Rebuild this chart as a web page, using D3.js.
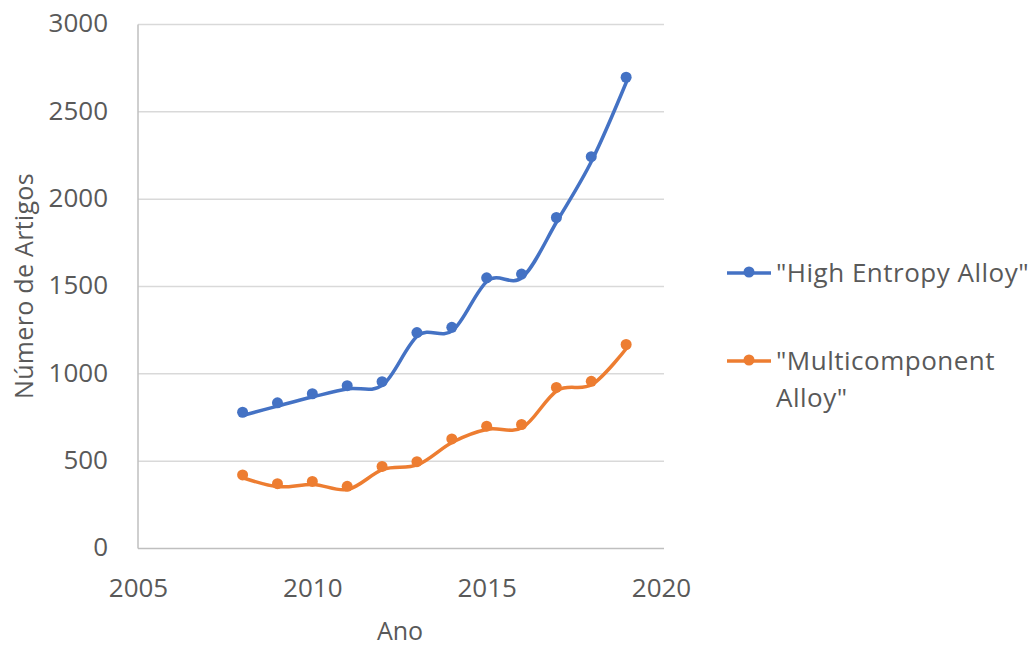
<!DOCTYPE html>
<html>
<head>
<meta charset="utf-8">
<script src="https://cdn.jsdelivr.net/npm/d3@7"></script>
<style>
  html, body { margin: 0; padding: 0; background: #fff; }
  svg text { font-family: "Open Sans", sans-serif; fill: #595959; }
</style>
</head>
<body>
<svg id="chart" width="1031" height="646"></svg>
<script>
// Publications per year for two alloy search terms
const years = [2008, 2009, 2010, 2011, 2012, 2013, 2014, 2015, 2016, 2017, 2018, 2019];
const highEntropy = [780, 834, 886, 932, 955, 1236, 1266, 1550, 1571, 1895, 2243, 2698];
const multicomponent = [421, 371, 384, 356, 470, 497, 627, 700, 710, 922, 957, 1168];
const seriesNames = ['"High Entropy Alloy"', '"Multicomponent Alloy"'];
const seriesColors = ["#4472C4", "#ED7D31"];
const xTicks = [2005, 2010, 2015, 2020];
const yTicks = [0, 500, 1000, 1500, 2000, 2500, 3000];

const svg = d3.select("#chart");

const x = d3.scaleLinear().domain([2005, 2020]).range([138, 661]);
const y = d3.scaleLinear().domain([0, 3000]).range([548.5, 24.5]);

// horizontal gridlines
svg.append("g")
  .selectAll("line")
  .data(yTicks.filter(d => d > 0))
  .join("line")
  .attr("x1", x(2005)).attr("x2", x(2020) + 3)
  .attr("y1", d => y(d)).attr("y2", d => y(d))
  .attr("stroke", "#d9d9d9").attr("stroke-width", 1.5);

// axis lines
svg.append("line")
  .attr("x1", x(2005)).attr("x2", x(2020) + 3)
  .attr("y1", y(0)).attr("y2", y(0))
  .attr("stroke", "#bfbfbf").attr("stroke-width", 1.5);
svg.append("line")
  .attr("x1", x(2005)).attr("x2", x(2005))
  .attr("y1", y(0)).attr("y2", y(3000))
  .attr("stroke", "#bfbfbf").attr("stroke-width", 1.5);

// y tick labels
const yAxis = d3.axisLeft(y).tickValues(yTicks).tickSize(0).tickPadding(30).tickFormat(d3.format("d"));
const gy = svg.append("g").attr("transform", `translate(${x(2005)},0)`).call(yAxis);
gy.select(".domain").remove();
gy.selectAll("text").attr("font-size", 26).attr("font-family", '"Open Sans", sans-serif')
  .attr("fill", "#595959").attr("dy", "0.28em");

// x tick labels
const xAxis = d3.axisBottom(x).tickValues(xTicks).tickSize(0).tickPadding(0).tickFormat(d3.format("d"));
const gx = svg.append("g").attr("transform", `translate(0,${y(0)})`).call(xAxis);
gx.select(".domain").remove();
gx.selectAll("text").attr("font-size", 26).attr("font-family", '"Open Sans", sans-serif')
  .attr("fill", "#595959").attr("dy", null).attr("y", 48);

// axis titles
svg.append("text")
  .attr("x", 400).attr("y", 640)
  .attr("text-anchor", "middle")
  .attr("font-size", 25)
  .text("Ano");
svg.append("text")
  .attr("transform", "translate(33,286) rotate(-90)")
  .attr("text-anchor", "middle")
  .attr("font-size", 25)
  .attr("letter-spacing", 0.3)
  .text("Número de Artigos");

// series
const series = [highEntropy, multicomponent].map((vals, i) => ({
  name: seriesNames[i],
  color: seriesColors[i],
  points: years.map((yr, j) => ({ year: yr, value: vals[j] }))
}));

const line = d3.line()
  .x(d => x(d.year))
  .y(d => y(d.value))
  .curve(d3.curveCardinal.tension(0));

series.forEach(s => {
  svg.append("path")
    .datum(s.points)
    .attr("transform", "translate(1,3)")
    .attr("fill", "none")
    .attr("stroke", s.color)
    .attr("stroke-width", 3.5)
    .attr("stroke-linecap", "round")
    .attr("d", line);
  svg.append("g")
    .selectAll("circle")
    .data(s.points)
    .join("circle")
    .attr("cx", d => x(d.year))
    .attr("cy", d => y(d.value))
    .attr("r", 5.5)
    .attr("fill", s.color);
});

// legend
const legend = [
  { lines: ['"High Entropy Alloy"'], y: 273 },
  { lines: ['"Multicomponent', 'Alloy"'], y: 361 }
];
legend.forEach((item, i) => {
  const g = svg.append("g");
  g.append("line")
    .attr("x1", 727).attr("x2", 771)
    .attr("y1", item.y).attr("y2", item.y)
    .attr("stroke", seriesColors[i]).attr("stroke-width", 3.5);
  g.append("circle")
    .attr("cx", 749).attr("cy", item.y - 1).attr("r", 5.5)
    .attr("fill", seriesColors[i]);
  item.lines.forEach((t, k) => {
    g.append("text")
      .attr("x", 776)
      .attr("y", item.y + 9 + k * 37)
      .attr("font-size", 26)
      .attr("letter-spacing", 0.5)
      .text(t);
  });
});
</script>
</body>
</html>
